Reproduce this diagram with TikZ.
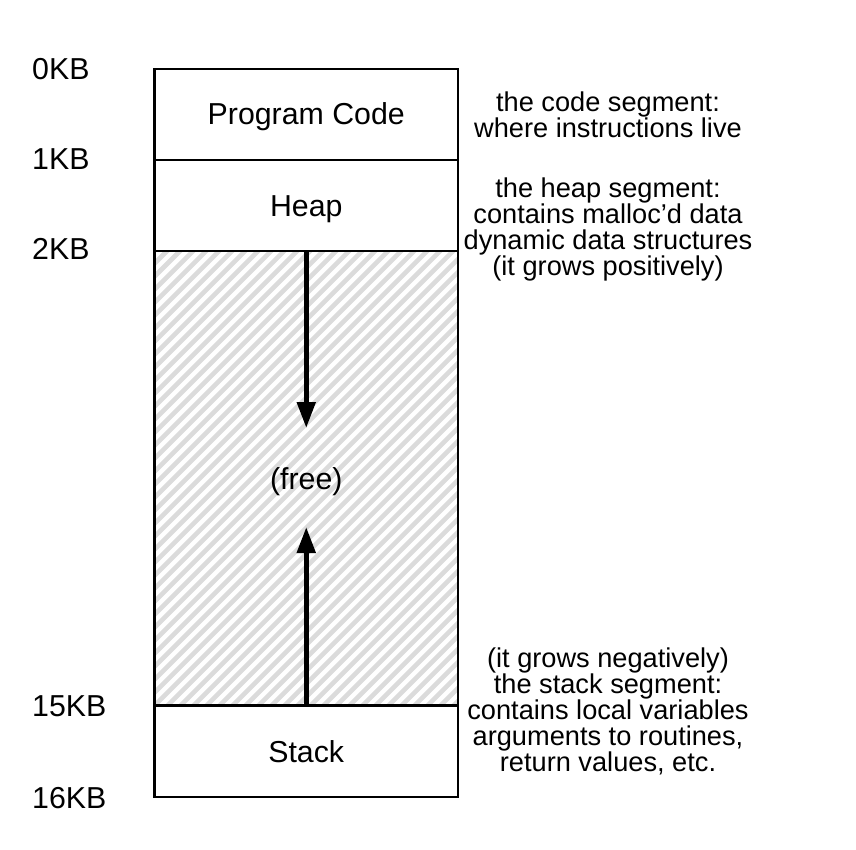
\documentclass[tikz,border=0pt]{standalone}
\usepackage{fontspec}
\setmainfont{Liberation Sans}
\usetikzlibrary{arrows.meta}
\begin{document}
\begin{tikzpicture}[x=1pt,y=-1pt,
  seg/.style={draw, line width=2.8pt, minimum width=303.5pt, inner sep=0pt, outer sep=0pt},
  hatchline/.style={draw=black!14, line width=4.6pt},
  lbl/.style={font=\fontsize{30.3}{32}\selectfont, anchor=base, inner sep=0pt},
  kb/.style={font=\fontsize{30.3}{32}\selectfont, anchor=base west, inner sep=0pt},
  note/.style={font=\fontsize{27.2}{26}\selectfont, align=center, anchor=base, inner sep=0pt},
  arr/.style={line width=5pt, -{Triangle[length=26pt,width=18pt]}}]
\useasboundingbox (0,0) rectangle (856,850);
% segments
\node[seg, minimum height=91pt] (code) at (306.25,114.5) {};
\node[seg, minimum height=91pt] (heap) at (306.25,205.5) {};
\node[seg, minimum height=454.5pt,
  path picture={\foreach \i in {-468,-455,...,312}
    \draw[hatchline] ([xshift=\i pt]path picture bounding box.south west) -- ++(500,-500);}]
  (free) at (306.25,478.25) {};
\node[seg, minimum height=91.5pt] (stack) at (306.25,751.25) {};
% labels inside
\node[lbl] (lcode) at (306.25,125) {Program Code};
\node[lbl] (lheap) at (306.25,216.7) {Heap};
\node[lbl] (lfree) at (306.25,489) {(free)};
\node[lbl] (lstack) at (306.25,762.7) {Stack};
% address labels
\node[kb] (k0) at (32,80) {0KB};
\node[kb] (k1) at (32,170) {1KB};
\node[kb] (k2) at (32,260) {2KB};
\node[kb] (k15) at (32,716.7) {15KB};
\node[kb] (k16) at (32,808) {16KB};
% notes (base anchor = last line's baseline)
\node[note] (ncode) at (608,137.5) {the code segment:\\where instructions live};
\node[note] (nheap) at (608,275.5) {the heap segment:\\contains malloc’d data\\dynamic data structures\\(it grows positively)};
\node[note] (nstack) at (608,771.7) {(it grows negatively)\\the stack segment:\\contains local variables\\arguments to routines,\\return values, etc.};
% growth arrows
\coordinate (dtip) at (306.25,428);
\coordinate (utip) at (306.25,527);
\draw[arr] (heap.south) -- (dtip);
\draw[arr] (stack.north) -- (utip);
\end{tikzpicture}
\end{document}
